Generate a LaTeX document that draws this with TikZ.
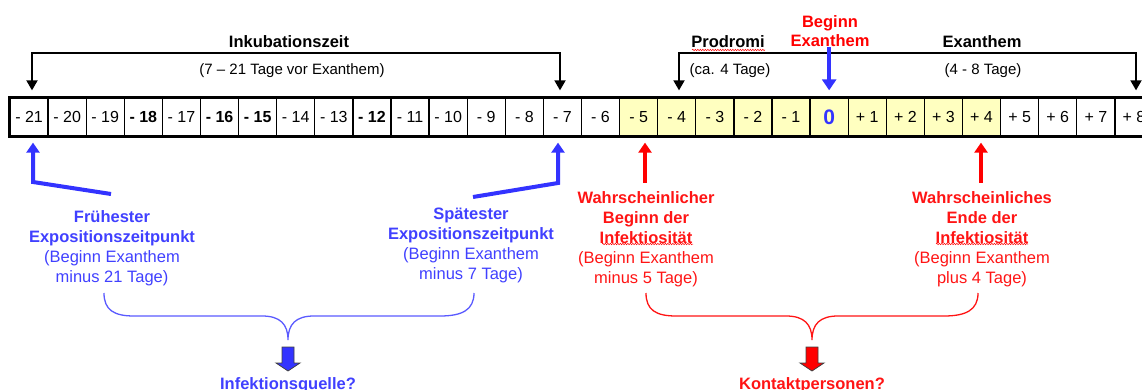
\documentclass[tikz,border=0pt]{standalone}
\usepackage{fontspec}
\setmainfont{Liberation Sans}
\usetikzlibrary{arrows.meta,decorations.pathmorphing,calc}
\definecolor{myblue}{RGB}{51,51,255}
\definecolor{lblue}{RGB}{64,64,255}
\definecolor{brblue}{RGB}{90,90,255}
\definecolor{myred}{RGB}{255,0,0}
\definecolor{lred}{RGB}{255,20,20}
\definecolor{cellyellow}{RGB}{255,255,192}
\newcommand\lbold[1]{{\fontsize{16.5}{20}\selectfont\bfseries #1}}
\begin{document}
\begin{tikzpicture}[x=1pt,y=-1pt,
  cell/.style={draw,line width=1.3pt,minimum width=38.1pt,minimum height=37pt,inner sep=0pt,font=\fontsize{16}{18}\selectfont},
  cn/.style={cell},
  cb/.style={cell,font=\fontsize{16}{18}\selectfont\bfseries},
  cy/.style={cell,fill=cellyellow},
  cz/.style={cell,fill=cellyellow,text=myblue,font=\fontsize{21}{24}\selectfont\bfseries},
  ttl/.style={font=\fontsize{16.5}{19}\selectfont\bfseries,inner sep=0pt,anchor=base},
  sub/.style={font=\fontsize{15}{18}\selectfont,inner sep=0pt,anchor=base},
  lab/.style={align=center,inner sep=0pt,font=\fontsize{16.5}{20}\selectfont},
  blkbr/.style={line width=1.8pt,{Triangle[width=11pt,length=10pt]}-{Triangle[width=11pt,length=10pt]},shorten <=7.5pt,shorten >=7.5pt},
  bluetop/.style={draw=myblue,line width=4pt,-{Triangle[width=14pt,length=11pt]},shorten >=7.5pt},
  bluearr/.style={draw=myblue,line width=4pt,-{Triangle[width=13pt,length=10pt]},shorten >=6.5pt},
  redarr/.style={draw=myred,line width=4pt,-{Triangle[width=13pt,length=10pt]},shorten >=6.5pt},
  wavy/.style={draw=myred,line width=0.5pt,decorate,decoration={snake,amplitude=0.7pt,segment length=2.5pt}},
  brace/.style={line width=1.3pt}
]
\useasboundingbox (0,0) rectangle (1142,390);
\clip (0,0) rectangle (1142,390);

% timeline cells
\foreach \lab/\st [count=\i from 0] in {- 21/cn,- 20/cn,- 19/cn,- 18/cb,- 17/cn,- 16/cb,- 15/cb,- 14/cn,- 13/cn,- 12/cb,- 11/cn,- 10/cn,- 9/cn,- 8/cn,- 7/cn,- 6/cn,- 5/cy,- 4/cy,- 3/cy,- 2/cy,- 1/cy,0/cz,+ 1/cy,+ 2/cy,+ 3/cy,+ 4/cy,+ 5/cn,+ 6/cn,+ 7/cn,+ 8/cn}{
  \node[\st] (c\i) at ({29.05+38.1*\i},117) {\lab};
}
\draw[line width=3pt] (c0.north west) rectangle (c29.south east);

% top labels
\node[ttl] (ink) at (289,48) {Inkubationszeit};
\node[sub] (inks) at (292,74.5) {(7 – 21 Tage vor Exanthem)};
\node[ttl] (prod) at (728,48) {Prodromi};
\node[sub] (prods) at (730,74.5) {(ca. 4 Tage)};
\node[ttl] (exa) at (982,48) {Exanthem};
\node[sub] (exas) at (983,74.5) {(4 - 8 Tage)};
\node[align=center,inner sep=0pt,text=myred,font=\fontsize{16.5}{19}\selectfont\bfseries] (beg) at (830,31.5) {Beginn\\Exanthem};
\draw[wavy] (692,50) -- (765,50);

% top brackets
\coordinate (ikl) at (32,53);
\coordinate (ikr) at (560,53);
\draw[blkbr] (ikl |- c0.north) -- (ikl) -- (ikr) -- (ikr |- c14.north);
\coordinate (pl) at (679,53);
\coordinate (pr) at (1136,53);
\draw[blkbr] (pl |- c17.north) -- (pl) -- (pr) -- (pr |- c29.north);
\draw[bluetop] (beg.south -| c21.north) -- (c21.north);

% lower labels
\node[lab,text=lblue] (fru) at (112,248) {\lbold{Frühester}\\\lbold{Expositionszeitpunkt}\\(Beginn Exanthem\\minus 21 Tage)};
\node[lab,text=lblue] (spa) at (471,245) {\lbold{Spätester}\\\lbold{Expositionszeitpunkt}\\(Beginn Exanthem\\minus 7 Tage)};
\node[lab,text=lred] (wb) at (646,239) {\lbold{Wahrscheinlicher}\\\lbold{Beginn der}\\\lbold{Infektiosität}\\(Beginn Exanthem\\minus 5 Tage)};
\node[lab,text=lred] (we) at (982,239) {\lbold{Wahrscheinliches}\\\lbold{Ende der}\\\lbold{Infektiosität}\\(Beginn Exanthem\\plus 4 Tage)};
\draw[wavy] (602,244) -- (693,244);
\draw[wavy] (936,244) -- (1028,244);

% lower arrows
\coordinate (f1) at (111,194);
\coordinate (f2) at (33,182);
\draw[bluearr] (f1) -- (f2) -- (f2 |- c0.south);
\coordinate (s1) at (473,197);
\coordinate (s2) at (558,183);
\draw[bluearr] (s1) -- (s2) -- (s2 |- c14.south);
\coordinate (r1) at (645,183);
\draw[redarr] (r1) -- (r1 |- c16.south);
\coordinate (r2) at (981,183);
\draw[redarr] (r2) -- (r2 |- c25.south);

% braces
\draw[brace,draw=brblue] (104,293) .. controls (104,310) and (114,316) .. (134,316) -- (262,316) .. controls (280,316) and (288,324) .. (288,340) .. controls (288,324) and (296,316) .. (314,316) -- (440,316) .. controls (462,316) and (474,310) .. (474,293);
\draw[brace,draw=lred] (646,293) .. controls (646,310) and (656,316) .. (676,316) -- (786,316) .. controls (804,316) and (812,324) .. (812,340) .. controls (812,324) and (820,316) .. (838,316) -- (944,316) .. controls (966,316) and (978,310) .. (978,293);

% block arrows
\filldraw[fill=myblue,draw=black!75,line width=0.8pt] (282,347) -- (294,347) -- (294,363) -- (300,363) -- (288,371) -- (276,363) -- (282,363) -- cycle;
\filldraw[fill=myred,draw=black!75,line width=0.8pt] (806,347) -- (818,347) -- (818,363) -- (824,363) -- (812,371) -- (800,363) -- (806,363) -- cycle;

% bottom labels
\node[ttl,text=lblue] (src) at (288,389) {Infektionsquelle?};
\node[ttl,text=lred] (kp) at (812,389) {Kontaktpersonen?};
\end{tikzpicture}
\end{document}
